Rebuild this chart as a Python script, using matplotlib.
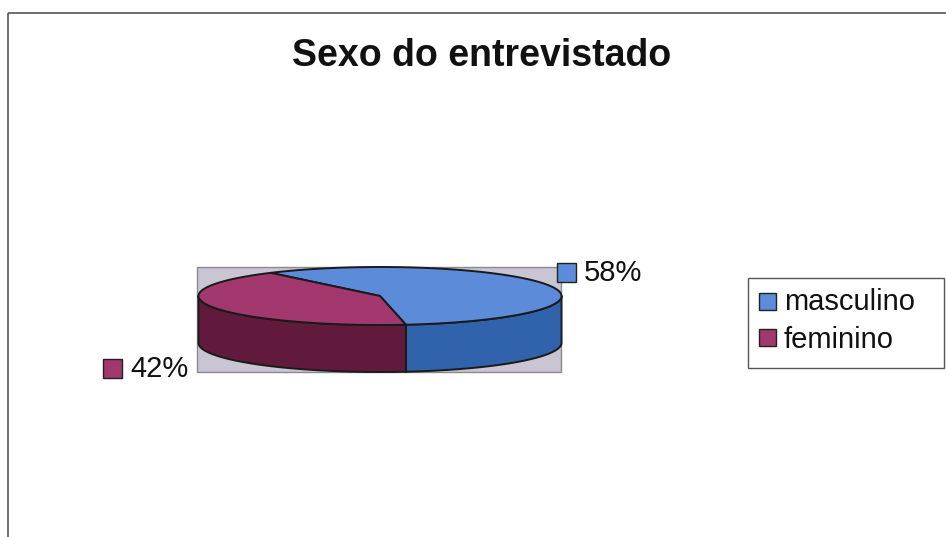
import numpy as np
import matplotlib
matplotlib.use("Agg")
import matplotlib.pyplot as plt
from matplotlib.patches import Polygon, Rectangle

# Data
categories = ["masculino", "feminino"]
shares = [58, 42]
pct_labels = ["58%", "42%"]
title = "Sexo do entrevistado"

# Styles
top_colors = ["#5b8bd9", "#a2386d"]
side_colors = ["#3163ac", "#611a3b"]
plot_bg = "#c9c5d3"
font = "Liberation Sans"

# Pie geometry in pixel space (axes cover the whole figure)
cx, cy = 380.0, 296.0
rx, ry = 181.5, 29.0
depth = 47.0
start_angle = 127.0   # degrees, slices run clockwise


def ell(theta_deg, dy=0.0):
    t = np.radians(theta_deg)
    return cx + rx * np.cos(t), cy - ry * np.sin(t) + dy


fig = plt.figure(figsize=(9.46, 5.37), dpi=100)
ax = fig.add_axes([0, 0, 1, 1])
ax.set_xlim(0, 946)
ax.set_ylim(537, 0)
ax.axis("off")

# chart frame (runs off the right and bottom)
ax.add_patch(Rectangle((8, 13), 960, 560, fill=False, ec="#555555", lw=1.2))

# plot area
ax.add_patch(Rectangle((197, 267), 364, 105, fc=plot_bg, ec="#8a8a8a", lw=1.0))

# slice angle ranges (clockwise from start_angle)
bounds = []
a = start_angle
for s in shares:
    sweep = 360.0 * s / sum(shares)
    bounds.append((a - sweep, a))
    a -= sweep

# side walls: only the front half (180..360 deg) is visible
for (a0, a1), col in zip(bounds, side_colors):
    for k in (-1, 0, 1):
        lo = max(a0 + 360 * k, 180.0)
        hi = min(a1 + 360 * k, 360.0)
        if hi <= lo:
            continue
        th = np.linspace(lo, hi, 120)
        top = [ell(t) for t in th]
        bot = [ell(t, depth) for t in th[::-1]]
        ax.add_patch(Polygon(top + bot, closed=True, fc=col, ec="#1a1a1a",
                             lw=1.4, joinstyle="round"))

# vertical edges at slice boundaries on the front side
for a0, a1 in bounds:
    for edge in (a0, a1):
        e = edge % 360
        if 180 < e < 360:
            x0, y0 = ell(e)
            ax.plot([x0, x0], [y0, y0 + depth], color="#1a1a1a", lw=1.4)

# top face wedges
for (a0, a1), col in zip(bounds, top_colors):
    th = np.linspace(a0, a1, 200)
    pts = [(cx, cy)] + [ell(t) for t in th]
    ax.add_patch(Polygon(pts, closed=True, fc=col, ec="#1a1a1a", lw=1.4,
                         joinstyle="round"))

# title
ax.text(482, 56, title, ha="center", va="center", fontsize=27,
        fontweight="bold", family=font, color="#111111")

# percentage labels with colour keys
label_pos = [(557, 263), (103, 359)]
for (lx, ly), col, txt in zip(label_pos, top_colors, pct_labels):
    ax.add_patch(Rectangle((lx, ly), 19, 19, fc=col, ec="#222222", lw=1.0))
    ax.text(lx + 27, ly + 10, txt, ha="left", va="center", fontsize=21,
            family=font, color="#111111")

# legend
ax.add_patch(Rectangle((748, 278), 196, 90, fc="white", ec="#555555", lw=1.0))
for i, (cat, col) in enumerate(zip(categories, top_colors)):
    y = 293 + i * 35.5
    ax.add_patch(Rectangle((759, y), 17, 17, fc=col, ec="#222222", lw=1.0))
    ax.text(784, y + 8.5 + i * 2.5, cat, ha="left", va="center", fontsize=21,
            family=font, color="#111111")

fig.savefig("out.png", dpi=100)
